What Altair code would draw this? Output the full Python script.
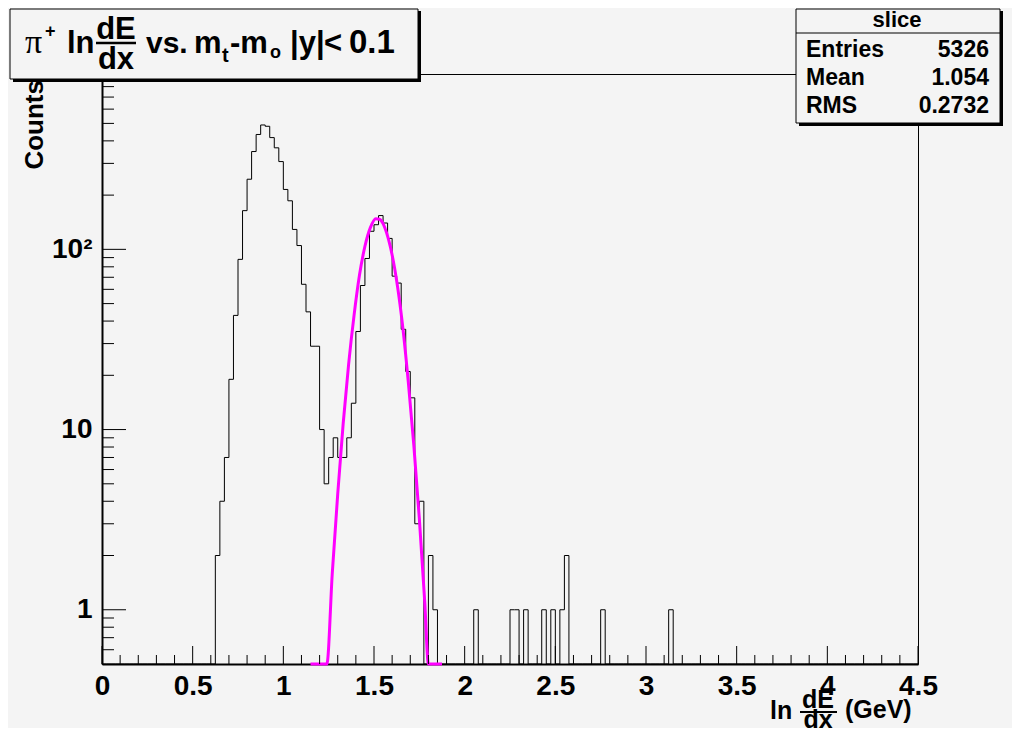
import altair as alt
import pandas as pd

# ---------------- data ----------------
bin_width = 0.025
n_bins = 180
x_range = [0.0, 4.5]
y_range = [0.5, 940]

# contiguous block of bins starting at bin 25 (x = 0.625)
main_first_bin = 25
main_counts = [2, 4, 7, 19, 43, 88, 164, 245, 349, 434, 490, 482, 417, 366, 307,
               215, 186, 129, 105, 64, 45, 29, 29,
               10, 5, 7, 9, 7, 7, 9, 14,
               35, 63, 89, 126, 137, 154, 140, 115, 71, 65, 36, 21, 15, 3, 4, 0, 2, 1]
# isolated tail bins
tail_bins = [82, 90, 91, 93, 97, 99, 101, 102, 110, 125]
tail_counts = [1, 1, 1, 1, 1, 1, 1, 2, 1, 1]

# fitted curve (magenta)
fit_x = [1.15, 1.20, 1.24, 1.27, 1.30, 1.33, 1.36, 1.39, 1.42, 1.45, 1.48, 1.51,
         1.53, 1.55, 1.57, 1.60, 1.63, 1.66, 1.69, 1.72, 1.75, 1.78, 1.80, 1.85, 1.875]
fit_y = [0.5, 0.5, 0.5, 1.6, 4.4, 10.8, 23, 43, 72, 104, 132, 148,
         147, 139, 123, 93, 62, 36, 18, 8.1, 3.2, 1.1, 0.5, 0.5, 0.5]

x_major = [0, 0.5, 1, 1.5, 2, 2.5, 3, 3.5, 4, 4.5]
x_minor = [0.1, 0.2, 0.3, 0.4, 0.6, 0.7, 0.8, 0.9, 1.1, 1.2, 1.3, 1.4, 1.6, 1.7, 1.8, 1.9,
           2.1, 2.2, 2.3, 2.4, 2.6, 2.7, 2.8, 2.9, 3.1, 3.2, 3.3, 3.4, 3.6, 3.7, 3.8, 3.9,
           4.1, 4.2, 4.3, 4.4]
y_major = [1, 10, 100]
y_major_labels = ["1", "10", "10\u00b2"]
y_minor = [0.6, 0.7, 0.8, 0.9, 2, 3, 4, 5, 6, 7, 8, 9, 20, 30, 40, 50, 60, 70, 80, 90,
           200, 300, 400, 500, 600, 700, 800, 900]

stats_title = "slice"
stats_names = ["Entries", "Mean", "RMS"]
stats_values = ["5326", "1.054", "0.2732"]

# ---------------- layout constants ----------------
W, H = 816, 590
BG = "#f4f4f4"
FONT = "Liberation Sans"

counts = [0] * n_bins
for i, c in enumerate(main_counts):
    counts[main_first_bin + i] = c
for b, c in zip(tail_bins, tail_counts):
    counts[b] = c
hist_df = pd.DataFrame({
    "x": [i * bin_width for i in range(n_bins)] + [x_range[1]],
    "y": counts + [counts[-1]],
})
fit_df = pd.DataFrame({"x": fit_x, "y": fit_y})
one = pd.DataFrame({"a": [0]})

xs = alt.Scale(domain=x_range, nice=False, zero=False)
ys = alt.Scale(type="log", domain=y_range, nice=False, clamp=True)

label_expr = "''"
for v, l in reversed(list(zip(y_major, y_major_labels))):
    label_expr = f"datum.value == {v} ? '{l}' : ({label_expr})"

x_axis = alt.Axis(
    values=x_major, format="~g", labelFont=FONT, labelFontWeight="bold",
    labelFontSize=28, labelColor="black", labelPadding=8, ticks=False, tickSize=0,
    domainColor="black", domainWidth=2, grid=False, title=None,
    labelFlush=False, labelOverlap=False)
y_axis = alt.Axis(
    values=y_major, labelExpr=label_expr, labelFont=FONT, labelFontWeight="bold",
    labelFontSize=28, labelColor="black", labelPadding=10, ticks=False, tickSize=0,
    domainColor="black", domainWidth=2, grid=False, title=None,
    labelFlush=False, labelOverlap=False)

X = alt.X("x:Q", scale=xs, axis=x_axis)
Y = alt.Y("yp:Q", scale=ys, axis=y_axis)

hist = alt.Chart(hist_df).transform_calculate(
    yp="max(datum.y, 0.3)"
).mark_line(interpolate="step-after", color="black", strokeWidth=1).encode(x=X, y=Y)

fit = alt.Chart(fit_df).transform_calculate(yp="datum.y").mark_line(
    color="#ff00ff", strokeWidth=3, interpolate="monotone").encode(x=X, y=Y)


def xticks(vals, length):
    return alt.Chart(pd.DataFrame({"x": vals})).mark_rule(color="black", strokeWidth=1).encode(
        x=X, y=alt.value(H), y2=alt.value(H - length))


def yticks(vals, length):
    return alt.Chart(pd.DataFrame({"yp": vals})).mark_rule(color="black", strokeWidth=1).encode(
        y=Y, x=alt.value(0), x2=alt.value(length))


def txt(s, x, y, size, align="left", baseline="alphabetic", font=FONT, weight="bold", angle=0):
    return alt.Chart(one).mark_text(
        text=s, align=align, baseline=baseline, font=font, fontSize=size,
        fontWeight=weight, color="black", angle=angle,
    ).encode(x=alt.value(x), y=alt.value(y))


def rect(x1, x2, y1, y2, fill, stroke=None, sw=1):
    kw = dict(fill=fill)
    if stroke:
        kw.update(stroke=stroke, strokeWidth=sw)
    return alt.Chart(one).mark_rect(**kw).encode(
        x=alt.value(x1), x2=alt.value(x2), y=alt.value(y1), y2=alt.value(y2))


def hline(x1, x2, y, sw=1):
    return alt.Chart(one).mark_rule(color="black", strokeWidth=sw).encode(
        x=alt.value(x1), x2=alt.value(x2), y=alt.value(y))


# view coords = page coords - (102, 74)
layers = [
    hist, fit,
    xticks(x_major, 18), xticks(x_minor, 9),
    yticks(y_major, 24), yticks(y_minor, 12),
    # title box
    rect(-89, 319, -63, 8, "black"),
    rect(-92, 316, -65, 5, BG, "black", 1),
    txt("\u03c0", -77, -21, 34, font="Liberation Serif", weight="normal"),
    txt("+", -57, -37, 18),
    txt("ln", -35, -21, 31),
    txt("dE", 14, -35, 31, align="center"),
    hline(-6, 34, -31, 2.5),
    txt("dx", 14, -5, 31, align="center"),
    txt("vs.", 44, -21, 30),
    txt("m", 92, -21, 31),
    txt("t", 120, -12, 20),
    txt("-m", 128, -21, 31),
    txt("o", 168, -16, 18),
    txt("|y|", 188, -21, 31),
    txt("<", 222, -21, 31),
    txt("0.1", 247, -21, 33),
    # stats box
    rect(697, 901, -63, 52, "black"),
    rect(694, 898, -65, 49, BG, "black", 1),
    hline(694, 898, -41, 1),
    txt(stats_title, 795, -47, 22, align="center"),
    txt(stats_names[0], 704, -17, 23),
    txt(stats_values[0], 887, -17, 23, align="right"),
    txt(stats_names[1], 704, 11, 23),
    txt(stats_values[1], 887, 11, 23, align="right"),
    txt(stats_names[2], 704, 39, 23),
    txt(stats_values[2], 887, 39, 23, align="right"),
    # axis titles
    txt("Counts", -67, 6, 26, align="right", baseline="middle", angle=270),
    txt("ln", 668, 645, 25),
    txt("dE", 716, 634, 25, align="center"),
    hline(698, 735, 638, 2),
    txt("dx", 716, 654, 25, align="center"),
    txt("(GeV)", 743, 644, 25),
]

chart = alt.layer(*layers).properties(
    width=W, height=H,
    padding={"left": 94, "top": 66, "right": 94, "bottom": 64},
    autosize=alt.AutoSizeParams(type="none"),
    background=BG,
).configure_view(stroke="black", strokeWidth=1, fill=BG)

chart.save("out.html", embed_options={"renderer": "svg", "actions": False})
